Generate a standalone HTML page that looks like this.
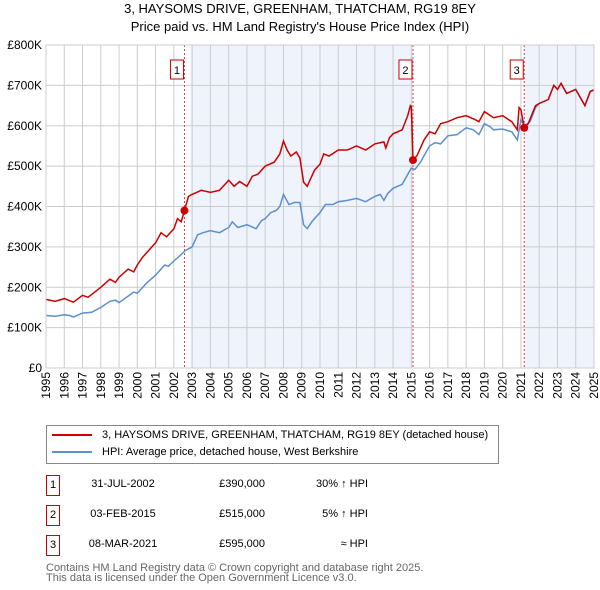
<!DOCTYPE html>
<html><head><meta charset="utf-8"><style>
body{margin:0;background:#fff;font-family:"Liberation Sans","DejaVu Sans",sans-serif;}
#wrap{position:relative;width:600px;height:590px;overflow:hidden;}
.t{position:absolute;white-space:nowrap;color:#000;}
</style></head><body>
<div id="wrap">
<div class="t" style="left:0;width:600px;text-align:center;top:0px;font-size:13px;line-height:18px;">3, HAYSOMS DRIVE, GREENHAM, THATCHAM, RG19 8EY<br>Price paid vs. HM Land Registry's House Price Index (HPI)</div>
<svg id="chart" width="600" height="410" style="position:absolute;left:0;top:0;"></svg>

<div style="position:absolute;left:46px;top:425px;width:451px;height:37px;border:1px solid #888;">
  <div style="position:absolute;left:5px;top:3px;font-size:11px;"><span style="display:inline-block;width:40px;height:2px;background:#cc0000;vertical-align:middle;margin-right:10px;"></span>3, HAYSOMS DRIVE, GREENHAM, THATCHAM, RG19 8EY (detached house)</div>
  <div style="position:absolute;left:5px;top:20px;font-size:11px;"><span style="display:inline-block;width:40px;height:2px;background:#5b8fd0;vertical-align:middle;margin-right:10px;"></span>HPI: Average price, detached house, West Berkshire</div>
</div>

<div id="table"></div>

<div class="t" style="left:46px;top:563px;font-size:11px;line-height:10px;color:#666;">Contains HM Land Registry data © Crown copyright and database right 2025.<br>This data is licensed under the Open Government Licence v3.0.</div>
</div>
<script>
const yTicks=[0,100,200,300,400,500,600,700,800];
const yTickLabels=["£0","£100K","£200K","£300K","£400K","£500K","£600K","£700K","£800K"];
const years=[1995,1996,1997,1998,1999,2000,2001,2002,2003,2004,2005,2006,2007,2008,2009,2010,2011,2012,2013,2014,2015,2016,2017,2018,2019,2020,2021,2022,2023,2024,2025];
const hpiT=[1995,1995.5,1996,1996.3,1996.5,1997,1997.5,1998,1998.5,1998.8,1999,1999.5,1999.8,2000,2000.5,2001,2001.5,2001.7,2002,2002.5,2002.6,2003,2003.3,2003.6,2004,2004.5,2005,2005.2,2005.5,2005.8,2006,2006.5,2006.8,2007,2007.3,2007.6,2007.8,2008,2008.3,2008.6,2008.9,2009.1,2009.3,2009.6,2010,2010.3,2010.7,2011,2011.5,2012,2012.5,2013,2013.3,2013.5,2013.7,2014,2014.5,2015,2015.2,2015.5,2016,2016.3,2016.6,2017,2017.5,2018,2018.4,2018.7,2019,2019.3,2019.5,2020,2020.5,2020.8,2021,2021.2,2021.5,2021.8,2022,2022.5,2022.8,2023,2023.2,2023.5,2024,2024.5,2024.8,2025];
const hpiV=[130,128,132,130,126,136,138,150,165,168,162,178,188,185,210,230,255,252,265,285,290,300,330,335,340,335,348,362,348,352,355,345,365,370,385,390,400,430,405,410,410,355,345,365,385,405,405,412,415,420,412,425,430,415,432,445,455,495,492,510,550,558,555,575,578,595,590,578,605,598,590,592,585,565,615,600,610,645,655,665,700,690,705,680,690,650,685,690];
const priceT=[1995,1995.5,1996,1996.5,1997,1997.3,1998,1998.5,1998.8,1999,1999.5,1999.8,2000,2000.3,2001,2001.3,2001.6,2002,2002.2,2002.4,2002.58,2002.8,2003,2003.5,2004,2004.5,2005,2005.3,2005.6,2006,2006.3,2006.6,2007,2007.5,2007.8,2008,2008.2,2008.4,2008.7,2008.9,2009.1,2009.3,2009.7,2010,2010.2,2010.5,2011,2011.5,2012,2012.5,2013,2013.5,2013.6,2013.8,2014,2014.5,2014.8,2014.95,2015.0,2015.09,2015.3,2015.7,2016,2016.3,2016.6,2017,2017.5,2018,2018.5,2018.7,2019,2019.5,2020,2020.5,2020.8,2020.9,2021.0,2021.18,2021.4,2021.8,2022,2022.5,2022.8,2023,2023.2,2023.5,2024,2024.5,2024.8,2025];
const priceV=[170,165,172,163,180,175,200,220,212,225,245,238,255,275,310,335,325,345,370,362,390,425,430,440,435,440,465,450,462,450,475,480,500,510,530,562,540,525,535,520,460,450,490,505,530,525,540,540,550,540,555,560,545,570,580,590,625,650,648,515,525,565,585,580,605,610,620,625,615,610,635,620,625,610,590,645,640,595,605,650,655,665,700,690,705,680,690,650,685,688];
const saleT=[2002.58,2015.09,2021.18];
const saleV=[390,515,595];
const saleLabels=["1","2","3"];
const saleDates=["31-JUL-2002","03-FEB-2015","08-MAR-2021"];
const salePrices=["£390,000","£515,000","£595,000"];
const saleHpi=["30% ↑ HPI","5% ↑ HPI","≈ HPI"];

const L=46,R=594,T=45,B=368;
const xS=t=>L+(t-1995)/30*(R-L);
const yS=v=>B-v/800*(B-T);
const NS="http://www.w3.org/2000/svg";
const svg=document.getElementById('chart');
function mk(tag,a,parent){const e=document.createElementNS(NS,tag);for(const k in a)e.setAttribute(k,a[k]);(parent||svg).appendChild(e);return e;}

let r=mk('rect',{x:L,y:T,width:R-L,height:B-T,fill:'#fff'});


let s1=mk('rect',{x:xS(2002.9),y:T,width:xS(saleT[1])-xS(2002.9),height:B-T,fill:'#eef3fc'});


let s2=mk('rect',{x:xS(saleT[2]),y:T,width:R-xS(saleT[2]),height:B-T,fill:'#eef3fc'});



yTicks.forEach((v,i)=>{
  let g=mk('line',{x1:L,x2:R,y1:yS(v),y2:yS(v),stroke:'#ccc','stroke-width':1});
  
  
  let t=mk('text',{x:L-4,y:yS(v)+4,'text-anchor':'end','font-size':12,fill:'#000'});
  t.textContent=yTickLabels[i];
  
  
});
years.forEach(y=>{
  let g=mk('line',{x1:xS(y),x2:xS(y),y1:T,y2:B,stroke:'#ccc','stroke-width':1});
  
  
  let t=mk('text',{x:0,y:0,'text-anchor':'end','font-size':12,fill:'#000',transform:`translate(${xS(y)+4},${B+4}) rotate(-90)`});
  t.textContent=y;
  
  
});
saleT.forEach((t,i)=>{
  let l=mk('line',{x1:xS(t),x2:xS(t),y1:T,y2:B,stroke:'#e04040','stroke-width':1,'stroke-dasharray':'2,2'});
  
  
  let bx=mk('rect',{x:xS(t)-14,y:60,width:13,height:19,fill:'#fff',stroke:'#cc0000'});
  
  
  let tx=mk('text',{x:xS(t)-7.5,y:74,'text-anchor':'middle','font-size':11,fill:'#000'});
  tx.textContent=saleLabels[i];
  
  
});
function path(T_,V_,col,name){
  let d=T_.map((t,i)=>(i?'L':'M')+xS(t).toFixed(1)+','+yS(V_[i]).toFixed(1)).join('');
  let p=mk('path',{d:d,fill:'none',stroke:col,'stroke-width':1.5});
  
  
}
path(hpiT,hpiV,'#5b8fd0','hpi-line');
path(priceT,priceV,'#cc0000','price-line');
saleT.forEach((t,i)=>{
  let c=mk('circle',{cx:xS(t),cy:yS(saleV[i]),r:4,fill:'#cc0000'});
  
  
});
let border=mk('rect',{x:L,y:T,width:R-L,height:B-T,fill:'none',stroke:'#ccc'});



const tbl=document.getElementById('table');
const rowsY=[475,505,535];
saleT.forEach((t,i)=>{
  const y=rowsY[i];
  const row=document.createElement('div');
  
  
  row.innerHTML=`<div class="t" style="left:46px;top:${y}px;width:12px;height:19px;border:1px solid #cc0000;font-size:11px;text-align:center;line-height:19px;">${saleLabels[i]}</div>
  <div class="t" style="left:73px;width:100px;text-align:center;top:${y+3}px;font-size:11px;">${saleDates[i]}</div>
  <div class="t" style="left:165px;width:100px;text-align:right;top:${y+3}px;font-size:11px;">${salePrices[i]}</div>
  <div class="t" style="left:268px;width:100px;text-align:right;top:${y+3}px;font-size:11px;">${saleHpi[i]}</div>`;
  tbl.appendChild(row);
});
</script>
</body></html>
